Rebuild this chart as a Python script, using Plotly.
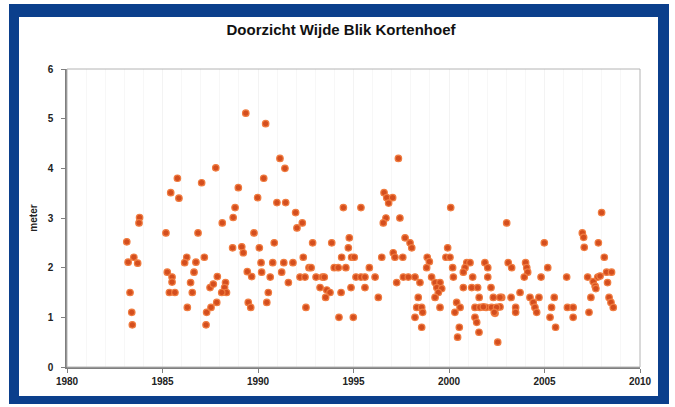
import plotly.graph_objects as go

# Secchi depth measurements (metres) by decimal year
years = [
    1983.13, 1983.20, 1983.50, 1983.70, 1983.80, 1983.77, 1983.30, 1983.39, 1983.42,
    1985.18, 1985.43, 1985.78, 1985.86, 1987.05, 1987.79, 1986.86, 1985.25, 1985.50,
    1985.50, 1985.36, 1985.65, 1986.27, 1986.16, 1986.75, 1987.19, 1986.65, 1986.47,
    1986.56, 1986.30, 1987.28, 1987.31, 1987.54, 1987.84, 1987.49, 1987.66, 1987.87,
    1988.13, 1988.30, 1988.25, 1988.35, 1988.10, 1988.70, 1988.80, 1988.67, 1988.97,
    1989.36, 1990.40, 1991.15, 1991.41, 1990.30, 1989.98, 1990.99, 1991.45, 1991.97,
    1992.32, 1992.04, 1989.79, 1990.85, 1992.86, 1993.86, 1994.47, 1995.39, 1994.78,
    1994.73, 1989.15, 1989.23, 1990.07, 1990.16, 1990.77, 1991.35, 1991.83, 1992.37,
    1992.67, 1992.78, 1994.38, 1994.90, 1995.04, 1993.99, 1994.20, 1994.60, 1989.44,
    1989.67, 1990.19, 1990.64, 1991.24, 1991.59, 1992.20, 1992.46, 1993.04, 1993.37,
    1993.47, 1995.13, 1995.39, 1993.25, 1993.60, 1993.77, 1993.54, 1994.35, 1994.87,
    1990.54, 1990.46, 1989.49, 1989.62, 1992.51, 1994.24, 1994.99,
    1997.35, 1996.60, 1996.74, 1997.05, 1996.84, 2000.09, 1996.70, 1996.56, 1997.43,
    1997.70, 1997.96, 1998.05, 1997.08, 1997.17, 1997.58, 1996.48, 1995.83, 1995.60,
    1996.13, 1995.60, 1996.30, 1997.26, 1997.61, 1997.87, 1998.22, 1998.48, 1998.86,
    1998.97, 1998.83, 1999.93, 1999.84, 2000.05, 2000.19, 2000.23, 1999.09, 1999.27,
    1999.53, 1999.36, 1999.62, 1999.44, 1999.27, 1998.39, 1998.31, 1998.57, 1998.62,
    1998.22, 1998.57, 1999.53, 2000.40, 2000.31, 2000.58, 2000.54, 2000.45, 2000.93,
    2001.10, 2000.84, 2000.75, 2001.24, 2000.75, 2001.19, 2001.58, 2001.36, 2001.62,
    2001.94, 2001.36, 2001.45, 2001.57, 2001.88, 2002.03, 2002.03, 2001.80, 2002.67,
    2002.41, 2002.76, 2001.50,
    2003.02, 2004.99, 2007.99, 2006.98, 2007.05, 2007.08, 2007.82, 2008.13, 2003.10,
    2003.28, 2004.01, 2004.07, 2004.12, 2005.17, 2003.94, 2004.82, 2006.16, 2007.26,
    2007.55, 2007.79, 2007.91, 2007.65, 2007.69, 2008.30, 2008.25, 2008.51, 2002.20,
    2002.32, 2002.67, 2003.25, 2002.23, 2002.49, 2002.37, 2003.49, 2003.49, 2003.72,
    2004.24, 2004.41, 2004.50, 2004.59, 2004.71, 2005.51, 2005.37, 2005.29, 2005.58,
    2006.20, 2006.50, 2006.50, 2007.43, 2007.33, 2008.38, 2008.48, 2008.60, 2002.55,
]

depth = [
    2.52, 2.11, 2.21, 2.09, 3.01, 2.90, 1.50, 1.10, 0.85,
    2.70, 3.51, 3.80, 3.40, 3.71, 4.01, 2.70, 1.91, 1.81,
    1.71, 1.50, 1.50, 2.21, 2.10, 2.11, 2.21, 1.91, 1.70,
    1.50, 1.20, 0.85, 1.10, 1.20, 1.30, 1.60, 1.67, 1.82,
    2.90, 1.70, 1.60, 1.50, 1.50, 3.01, 3.21, 2.40, 3.61,
    5.11, 4.90, 4.20, 4.00, 3.80, 3.41, 3.31, 3.31, 3.11,
    2.90, 2.80, 2.70, 2.50, 2.50, 2.50, 3.21, 3.21, 2.60,
    2.40, 2.42, 2.30, 2.40, 2.10, 2.10, 2.10, 2.10, 2.21,
    2.00, 2.00, 2.21, 2.21, 2.21, 2.00, 2.00, 2.00, 1.92,
    1.82, 1.91, 1.81, 1.91, 1.70, 1.81, 1.81, 1.81, 1.81,
    1.81, 1.81, 1.81, 1.60, 1.55, 1.50, 1.40, 1.50, 1.60,
    1.50, 1.30, 1.30, 1.20, 1.20, 1.00, 1.00,
    4.20, 3.51, 3.41, 3.41, 3.30, 3.21, 3.00, 2.90, 3.00,
    2.60, 2.50, 2.40, 2.30, 2.21, 2.21, 2.21, 2.00, 1.81,
    1.81, 1.60, 1.40, 1.70, 1.81, 1.81, 1.81, 1.70, 2.21,
    2.12, 2.00, 2.40, 2.21, 2.21, 2.00, 1.81, 1.81, 1.70,
    1.70, 1.60, 1.58, 1.50, 1.40, 1.40, 1.20, 1.20, 1.10,
    1.00, 0.80, 1.20, 1.30, 1.10, 1.20, 0.80, 0.60, 2.10,
    2.10, 2.00, 1.91, 1.81, 1.60, 1.60, 1.40, 1.20, 1.20,
    1.20, 1.00, 0.90, 0.70, 2.10, 2.00, 1.81, 1.21, 1.21,
    1.08, 1.40, 1.60,
    2.90, 2.50, 3.11, 2.70, 2.61, 2.41, 2.50, 2.21, 2.10,
    2.00, 2.10, 2.00, 1.91, 2.00, 1.81, 1.81, 1.81, 1.81,
    1.72, 1.81, 1.83, 1.63, 1.58, 1.70, 1.91, 1.91, 1.60,
    1.40, 1.40, 1.40, 1.20, 1.20, 1.10, 1.20, 1.10, 1.50,
    1.40, 1.30, 1.20, 1.10, 1.40, 1.40, 1.20, 1.00, 0.80,
    1.20, 1.20, 1.00, 1.40, 1.10, 1.40, 1.30, 1.20, 0.50,
]

x_ticks = [1980, 1985, 1990, 1995, 2000, 2005, 2010]
y_ticks = [0, 1, 2, 3, 4, 5, 6]

W, H = 675, 407
L, R, T, B = 67, 35, 69, 40
pw, ph = W - L - R, H - T - B


def px_x(p):
    return (p - L) / pw


def px_y(p):
    return (H - B - p) / ph


FRAME = "#0B3F8C"
font = "Arial, 'Liberation Sans', sans-serif"

fig = go.Figure(
    go.Scatter(
        x=years,
        y=depth,
        mode="markers",
        marker=dict(symbol="circle", size=6.5, color="#D44E1E",
                    line=dict(color="#F07C40", width=1.2)),
        hoverinfo="x+y",
    )
)

shapes = [
    # dark blue frame around the whole chart
    dict(type="rect", xref="paper", yref="paper", layer="below",
         x0=px_x(9), x1=px_x(669), y0=px_y(4), y1=px_y(404),
         fillcolor=FRAME, line=dict(width=0)),
    dict(type="rect", xref="paper", yref="paper", layer="below",
         x0=px_x(19), x1=px_x(658), y0=px_y(17), y1=px_y(396),
         fillcolor="white", line=dict(width=0)),
    # plot-area border
    dict(type="rect", xref="paper", yref="paper", layer="above",
         x0=0, x1=1, y0=0, y1=1, line=dict(color="#b4b4b4", width=1)),
]

fig.update_layout(
    width=W, height=H,
    margin=dict(l=L, r=R, t=T, b=B),
    paper_bgcolor="white",
    plot_bgcolor="rgba(0,0,0,0)",
    showlegend=False,
    shapes=shapes,
    title=dict(text="<b>Doorzicht Wijde Blik Kortenhoef</b>",
               x=px_x(341), xanchor="center", xref="paper",
               y=1 - 30 / H, yanchor="middle", yref="container",
               font=dict(family=font, size=15, color="#111")),
    font=dict(family=font),
)

fig.update_xaxes(
    range=[1980, 2010], tickvals=x_ticks, ticktext=[str(v) for v in x_ticks],
    showline=True, linecolor="#7f7f7f", linewidth=1.5,
    ticks="outside", ticklen=4, tickcolor="#7f7f7f",
    showgrid=True, gridcolor="#f3f3f3", gridwidth=1,
    minor=dict(dtick=1, showgrid=True, gridcolor="#f7f7f7"),
    zeroline=False,
    tickfont=dict(family=font, size=10, color="#222", weight="bold"),
)

fig.update_yaxes(
    range=[0, 6], tickvals=y_ticks, ticktext=[str(v) for v in y_ticks],
    showline=True, linecolor="#7f7f7f", linewidth=1.5,
    ticks="outside", ticklen=4, tickcolor="#7f7f7f",
    ticklabelstandoff=6,
    showgrid=False, zeroline=False,
    tickfont=dict(family=font, size=10, color="#222", weight="bold"),
    title=dict(text="<b>meter</b>", standoff=8,
               font=dict(family=font, size=10, color="#222")),
)

fig.write_html("out.html")
